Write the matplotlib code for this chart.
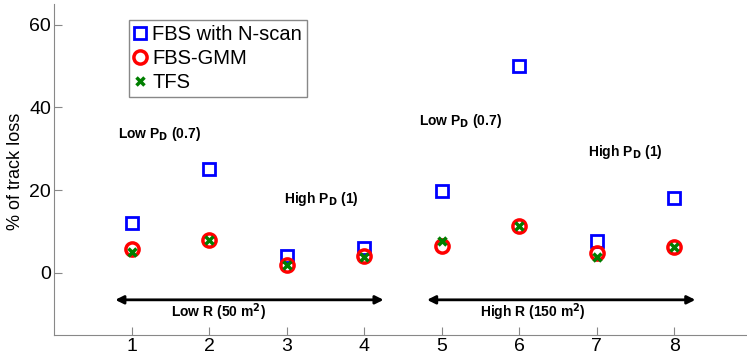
import matplotlib
matplotlib.use("Agg")
import matplotlib.pyplot as plt

plt.rcParams['font.family'] = ['Liberation Sans', 'DejaVu Sans']

x = [1, 2, 3, 4, 5, 6, 7, 8]
fbs_nscan = [12.0, 25.2, 4.1, 6.0, 19.7, 49.9, 7.6, 18.1]
fbs_gmm = [5.7, 8.0, 1.9, 4.1, 6.5, 11.4, 4.8, 6.2]
tfs = [5.0, 8.0, 1.9, 3.8, 7.6, 11.4, 3.8, 6.2]

fig = plt.figure(figsize=(7.47, 3.59), dpi=100)
ax = fig.add_axes([54/747, 24/359, 698/747, 331/359])

ax.plot(x, fbs_nscan, linestyle='none', marker='s', markersize=9, markerfacecolor='none',
        markeredgecolor='#0000ff', markeredgewidth=2, label='FBS with N-scan')
ax.plot(x, fbs_gmm, linestyle='none', marker='o', markersize=9.5, markerfacecolor='none',
        markeredgecolor='#ff0000', markeredgewidth=2.5, label='FBS-GMM')
ax.plot(x, tfs, linestyle='none', marker='x', markersize=6, markeredgecolor='#007f00',
        markeredgewidth=2.5, label='TFS')

ax.set_xlim(0, 9)
ax.set_ylim(-15, 65)
ax.set_xticks(x)
ax.set_yticks([0, 20, 40, 60])
ax.tick_params(direction='in', length=6, color='#888888', labelsize=14)
ax.tick_params(axis='y', pad=2)
ax.tick_params(axis='x', pad=2)
for s in ['top', 'right']:
    ax.spines[s].set_visible(False)
for s in ['left', 'bottom']:
    ax.spines[s].set_color('#888888')
ax.set_ylabel('% of track loss', fontsize=13)
ax.yaxis.set_label_coords(-0.043, 0.495)

leg = ax.legend(loc='upper left', bbox_to_anchor=(129/747, 1 - 20/359),
                bbox_transform=fig.transFigure, borderaxespad=0, fontsize=14.5,
                fancybox=False, edgecolor='#888888', handlelength=0.6,
                handletextpad=0.3, borderpad=0.25, labelspacing=0.25, framealpha=1)
leg.get_frame().set_linewidth(1)

tkw = dict(fontsize=10, fontweight='bold')
ax.text(0.83, 32.7, r'Low P$_\mathbf{D}$ (0.7)', **tkw)
ax.text(4.71, 35.8, r'Low P$_\mathbf{D}$ (0.7)', **tkw)
ax.text(2.96, 17.0, r'High P$_\mathbf{D}$ (1)', **tkw)
ax.text(6.88, 28.3, r'High P$_\mathbf{D}$ (1)', **tkw)

akw = dict(arrowstyle='<|-|>', color='black', lw=2, mutation_scale=12, shrinkA=0, shrinkB=0)
ax.annotate('', xy=(0.79, -6.5), xytext=(4.25, -6.5), arrowprops=akw)
ax.annotate('', xy=(4.81, -6.5), xytext=(8.27, -6.5), arrowprops=akw)
ax.text(2.12, -9.6, r'Low R (50 m$^\mathbf{2}$)', ha='center', va='center', **tkw)
ax.text(6.18, -9.6, r'High R (150 m$^\mathbf{2}$)', ha='center', va='center', **tkw)

fig.savefig('out.png', dpi=100)
